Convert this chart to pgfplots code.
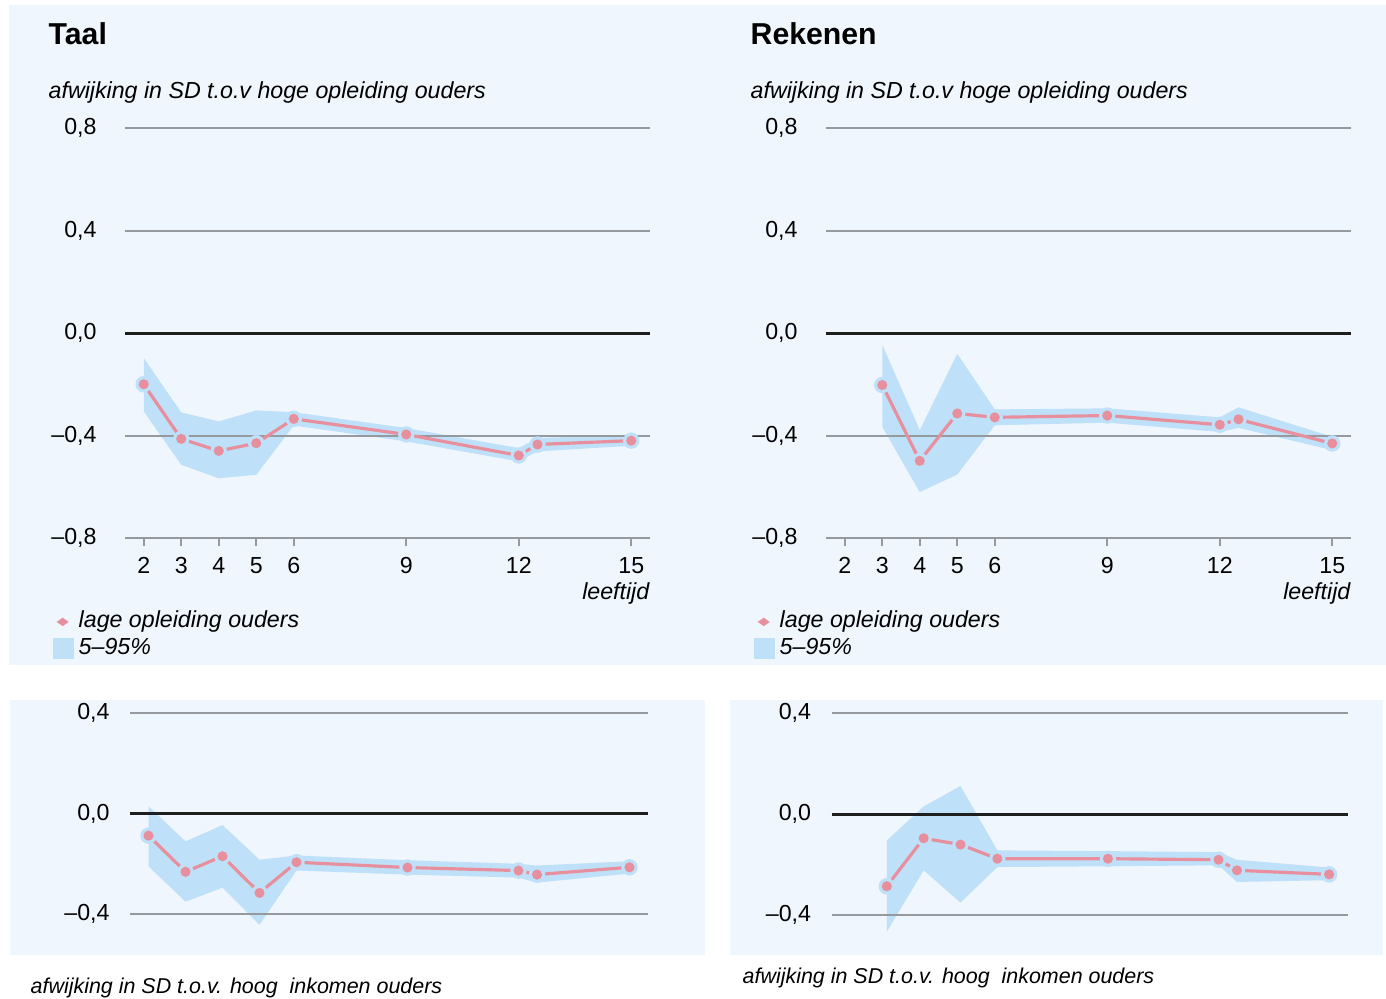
\documentclass[border=0pt]{standalone}
\usepackage{pgfplots}
\pgfplotsset{compat=1.18}
\usepackage{fontspec}
\setmainfont{Liberation Sans}

\definecolor{bgc}{RGB}{239,246,253}
\definecolor{bandc}{RGB}{190,224,248}
\definecolor{pinkc}{RGB}{232,143,158}
\definecolor{gridc}{RGB}{150,154,158}
\definecolor{zeroc}{RGB}{30,30,30}

\newcommand{\tickfont}{\fontsize{6.6}{8}\selectfont}
\tikzset{lab/.style={inner sep=0pt, anchor=base west}}

\pgfplotsset{
  base/.style={scale only axis, xmin=1.5, xmax=15.5, clip=false},
  bandaxis/.style={base, hide axis},
  frame/.style={base,
    axis line style={draw=none},
    ymajorgrids, grid style={gridc, line width=0.2mm},
    ytick style={draw=none},
    yticklabel style={font=\tickfont, xshift=-0.8mm},
    extra y ticks={0}, extra y tick labels={},
    extra y tick style={grid style={zeroc, line width=0.3mm}},
  },
  top/.style={width=52.5mm, height=41mm, ymin=-0.8, ymax=0.8},
  toprow/.style={frame, top,
    ytick={-0.8,-0.4,0,0.4,0.8},
    yticklabels={{\textendash0,8},{\textendash0,4},{0,0},{0,4},{0,8}},
    xtick={2,3,4,5,6,9,12,15}, xticklabels={2,3,4,5,6,9,12,15},
    xtick pos=bottom, tick align=outside, major tick length=0.8mm,
    xtick style={gridc, line width=0.2mm},
    xticklabel style={font=\tickfont, yshift=0.1mm},
    legend style={at={(-0.139,-0.176)}, anchor=north west, draw=none, fill=none,
      inner sep=0pt, font=\itshape\tickfont, row sep=0.5mm, column sep=0.5mm,
      nodes={inner sep=0pt}},
    legend cell align=left,
  },
  bot/.style={ymin=-0.4, ymax=0.4},
  botrow/.style={frame, bot, ytick={-0.4,0,0.4},
    yticklabels={{\textendash0,4},{0,0},{0,4}}, xtick=\empty},
  bandstyle/.style={fill=bandc, draw=none},
  linestyle/.style={pinkc, line width=0.9pt, forget plot},
  halo/.style={only marks, mark=*, mark size=0.75mm, color=bandc, forget plot},
  dots/.style={only marks, mark=*, mark size=0.43mm, color=pinkc, forget plot},
  diamondkey/.style={legend image code/.code={\path[draw=none] (0,0) rectangle (2.1mm,0);
    \fill[pinkc, draw=none] (0.4mm,0) -- (1.0mm,0.42mm) -- (1.6mm,0) -- (1.0mm,-0.42mm) -- cycle;}},
  squarekey/.style={legend image code/.code={\fill[bandc, draw=none] (0,-1.05mm) rectangle (2.1mm,1.05mm);}},
}

% Taal, opleiding
\pgfplotstableread{
x y
2 -0.200
3 -0.413
4 -0.460
5 -0.430
6 -0.335
9 -0.396
12 -0.478
12.5 -0.435
15 -0.420
}\taalopl
% Rekenen, opleiding
\pgfplotstableread{
x y
3 -0.203
4 -0.499
5 -0.314
6 -0.329
9 -0.322
12 -0.358
12.5 -0.337
15 -0.431
}\rekopl
% Taal, inkomen
\pgfplotstableread{
x y
2 -0.088
3 -0.232
4 -0.170
5 -0.316
6 -0.194
9 -0.215
12 -0.227
12.5 -0.243
15 -0.214
}\taalink
% Rekenen, inkomen
\pgfplotstableread{
x y
3 -0.286
4 -0.096
5 -0.121
6 -0.177
9 -0.177
12 -0.181
12.5 -0.223
15 -0.239
}\rekink

\begin{document}
\begin{tikzpicture}
\path (0,0) rectangle (138.6mm,-99.8mm);
\fill[bgc] (0.9mm,-0.5mm) rectangle (138.6mm,-66.5mm);
\fill[bgc] (1.0mm,-70.0mm) rectangle (70.5mm,-95.5mm);
\fill[bgc] (73.0mm,-70.0mm) rectangle (138.3mm,-95.5mm);

\node[lab, font=\bfseries\fontsize{8.6}{10}\selectfont] at (4.8mm,-4.4mm) {Taal};
\node[lab, font=\bfseries\fontsize{8.6}{10}\selectfont] at (75.0mm,-4.4mm) {Rekenen};
\node[lab, font=\itshape\tickfont] at (4.8mm,-9.8mm) {afwijking in SD t.o.v hoge opleiding ouders};
\node[lab, font=\itshape\tickfont] at (75.0mm,-9.8mm) {afwijking in SD t.o.v hoge opleiding ouders};
\node[inner sep=0pt, anchor=base east, font=\itshape\tickfont] at (65.0mm,-59.9mm) {leeftijd};
\node[inner sep=0pt, anchor=base east, font=\itshape\tickfont] at (135.1mm,-59.9mm) {leeftijd};
\node[lab, font=\itshape\fontsize{6.1}{7}\selectfont] at (3.0mm,-99.3mm) {afwijking in SD t.o.v. hoog~ inkomen ouders};
\node[lab, font=\itshape\fontsize{6.1}{7}\selectfont] at (74.2mm,-98.3mm) {afwijking in SD t.o.v. hoog~ inkomen ouders};

% ---- top left: Taal, opleiding
\begin{axis}[bandaxis, top, at={(12.5mm,-53.8mm)}, anchor=south west]
\addplot[bandstyle] coordinates {
 (2,-0.098)(3,-0.310)(4,-0.345)(5,-0.302)(6,-0.309)(9,-0.371)(12,-0.449)(12.5,-0.410)(15,-0.397)
 (15,-0.440)(12.5,-0.462)(12,-0.501)(9,-0.423)(6,-0.361)(5,-0.553)(4,-0.567)(3,-0.514)(2,-0.306)} -- cycle;
\end{axis}
\begin{axis}[toprow, at={(12.5mm,-53.8mm)}, anchor=south west]
\addplot[linestyle] table {\taalopl};
\addplot[halo] table {\taalopl};
\addplot[dots] table {\taalopl};
\addlegendimage{diamondkey}
\addlegendimage{squarekey}
\legend{lage opleiding ouders,5\textendash95\%}
\end{axis}

% ---- top right: Rekenen, opleiding
\begin{axis}[bandaxis, top, at={(82.6mm,-53.8mm)}, anchor=south west]
\addplot[bandstyle] coordinates {
 (3,-0.046)(4,-0.379)(5,-0.081)(6,-0.298)(9,-0.294)(12,-0.329)(12.5,-0.290)(15,-0.405)
 (15,-0.457)(12.5,-0.370)(12,-0.386)(9,-0.350)(6,-0.360)(5,-0.552)(4,-0.621)(3,-0.366)} -- cycle;
\end{axis}
\begin{axis}[toprow, at={(82.6mm,-53.8mm)}, anchor=south west]
\addplot[linestyle] table {\rekopl};
\addplot[halo] table {\rekopl};
\addplot[dots] table {\rekopl};
\addlegendimage{diamondkey}
\addlegendimage{squarekey}
\legend{lage opleiding ouders,5\textendash95\%}
\end{axis}

% ---- bottom left: Taal, inkomen
\begin{axis}[bandaxis, bot, width=51.8mm, height=20.1mm, at={(13.0mm,-91.4mm)}, anchor=south west]
\addplot[bandstyle] coordinates {
 (2,0.029)(3,-0.111)(4,-0.046)(5,-0.184)(6,-0.167)(9,-0.186)(12,-0.200)(12.5,-0.207)(15,-0.190)
 (15,-0.239)(12.5,-0.275)(12,-0.255)(9,-0.243)(6,-0.227)(5,-0.443)(4,-0.295)(3,-0.351)(2,-0.210)} -- cycle;
\end{axis}
\begin{axis}[botrow, width=51.8mm, height=20.1mm, at={(13.0mm,-91.4mm)}, anchor=south west]
\addplot[linestyle] table {\taalink};
\addplot[halo] table {\taalink};
\addplot[dots] table {\taalink};
\end{axis}

% ---- bottom right: Rekenen, inkomen
\begin{axis}[bandaxis, bot, width=51.6mm, height=20.2mm, at={(83.15mm,-91.5mm)}, anchor=south west]
\addplot[bandstyle] coordinates {
 (3,-0.105)(4,0.030)(5,0.111)(6,-0.144)(9,-0.147)(12,-0.151)(12.5,-0.181)(15,-0.212)
 (15,-0.262)(12.5,-0.269)(12,-0.203)(9,-0.207)(6,-0.210)(5,-0.351)(4,-0.223)(3,-0.466)} -- cycle;
\end{axis}
\begin{axis}[botrow, width=51.6mm, height=20.2mm, at={(83.15mm,-91.5mm)}, anchor=south west]
\addplot[linestyle] table {\rekink};
\addplot[halo] table {\rekink};
\addplot[dots] table {\rekink};
\end{axis}
\end{tikzpicture}
\end{document}
